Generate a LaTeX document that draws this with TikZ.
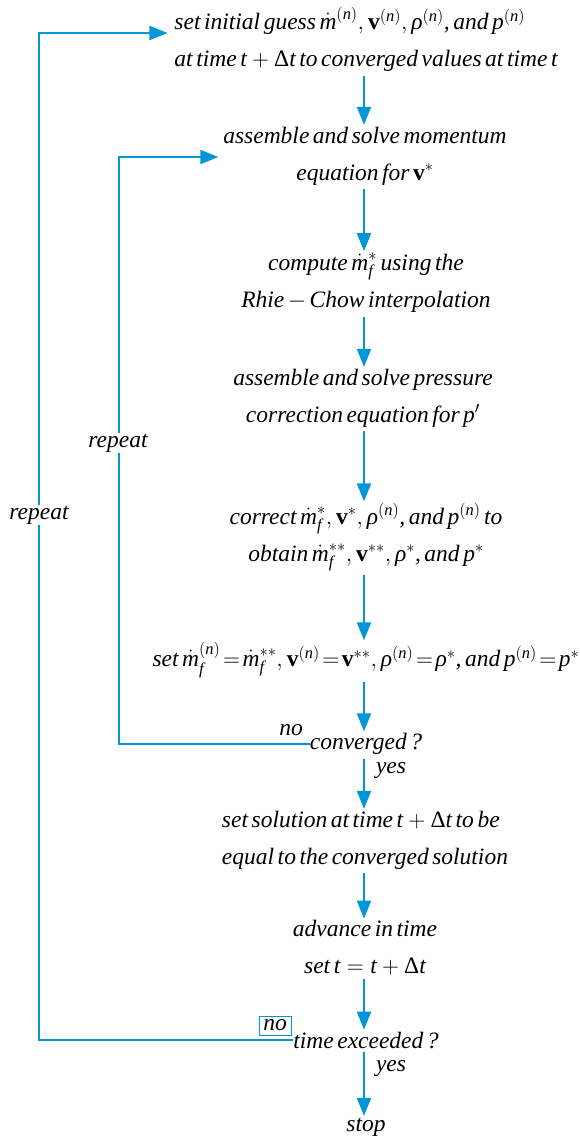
\documentclass[tikz,border=0pt]{standalone}
\usepackage{fix-cm}
\usepackage{amsmath}
\usepackage{fontspec}
\setmainfont[WordSpace=0.6]{Liberation Serif}
\usetikzlibrary{arrows.meta}
\definecolor{flowblue}{RGB}{0,150,215}
\newcommand{\md}{\dot{\textit{m}}}
\newcommand{\vb}{\textup{\textbf{v}}}
\newcommand{\rh}{\textit{ρ}}
\newcommand{\pv}{\textit{p}}
\newcommand{\tv}{\textit{t}}
\newcommand{\sn}{^{(\textit{n})}}
\newcommand{\Dl}{\textup{Δ}}
\newcommand{\fs}{_{\textit{f}}}
\begin{document}
\begin{tikzpicture}[x=1pt,y=-1pt,
  txt/.style={font=\fontsize{23.5}{37}\selectfont\itshape, inner sep=0pt, outer sep=0pt, align=center},
  lbl/.style={font=\fontsize{23.5}{28}\selectfont\itshape, inner sep=1pt},
  arr/.style={draw=flowblue, line width=2pt, -{Triangle[length=18pt,width=14pt,fill=flowblue]}, shorten <=4pt, shorten >=2pt},
  loop/.style={draw=flowblue, line width=2pt, -{Triangle[length=18pt,width=14pt,fill=flowblue]}}]
\useasboundingbox (0,0) rectangle (579,1138);
\coordinate (colx) at (364,0);
\coordinate (innerx) at (119,0);
\coordinate (outerx) at (39,0);
\node[txt, align=left] (n1) at (366,39.5) {set initial guess $\md\sn, \vb\sn, \rh\sn$, and $\pv\sn$\\ at time $\tv + \Dl\tv$ to converged values at time $\tv$};
\node[txt] (n2) at (365,156) {assemble and solve momentum\\ equation for $\vb^{*}$};
\node[txt] (n3) at (366,283) {compute $\md\fs^{*}$ using the\\ Rhie $-$ Chow interpolation};
\node[txt] (n4) at (363,398) {assemble and solve pressure\\ correction equation for $\pv'$};
\node[txt] (n5) at (366,537) {correct $\md\fs^{*}, \vb^{*}, \rh\sn$, and $\pv\sn$ to\\ obtain $\md\fs^{**}, \vb^{**}, \rh^{*}$, and $\pv^{*}$};
\node[txt] (n6) at (366,660) {\thickmuskip=2mu\medmuskip=1mu set $\md\fs\sn = \md\fs^{**}, \vb\sn = \vb^{**}, \rh\sn = \rh^{*}$, and $\pv\sn = \pv^{*}$};
\node[txt] (n7) at (366,744) {converged ?};
\node[txt, align=left] (n8) at (365,840) {set solution at time $\tv + \Dl\tv$ to be\\ equal to the converged solution};
\node[txt] (n9) at (365,948) {advance in time\\ set $\tv = \tv + \Dl\tv$};
\node[txt] (n10) at (366,1040) {time exceeded ?};
\node[txt] (n11) at (366,1127) {stop};
\draw[arr] (n1.south -| colx) -- (n2.north -| colx);
\draw[arr] (n2.south -| colx) -- (n3.north -| colx);
\draw[arr] (n3.south -| colx) -- (n4.north -| colx);
\draw[arr] (n4.south -| colx) -- (n5.north -| colx);
\draw[arr] (n5.south -| colx) -- (n6.north -| colx);
\draw[arr] (n6.south -| colx) -- (n7.north -| colx);
\draw[arr] (n7.south -| colx) -- (n8.north -| colx);
\draw[arr] (n8.south -| colx) -- (n9.north -| colx);
\draw[arr] (n9.south -| colx) -- (n10.north -| colx);
\draw[arr] (n10.south -| colx) -- (n11.north -| colx);
\draw[loop, shorten >=5pt] (n7.west) -- (n7.west -| innerx) |- ([yshift=-1pt]n2.west);
\draw[loop, shorten >=7pt] (n10.west) -- (n10.west -| outerx) |- ([yshift=6.5pt]n1.west);
\node[lbl, fill=white] (r1) at (118,443) {repeat};
\node[lbl, fill=white] (r2) at (39,515) {repeat};
\node[lbl] (no1) at (291,730) {no};
\node[lbl, draw=flowblue, line width=0.8pt, minimum width=32pt, minimum height=19pt, inner sep=0pt] (no2) at (275,1025.5) {no};
\node[lbl] (y1) at (391,770) {yes};
\node[lbl] (y2) at (391,1068) {yes};
\end{tikzpicture}
\end{document}
